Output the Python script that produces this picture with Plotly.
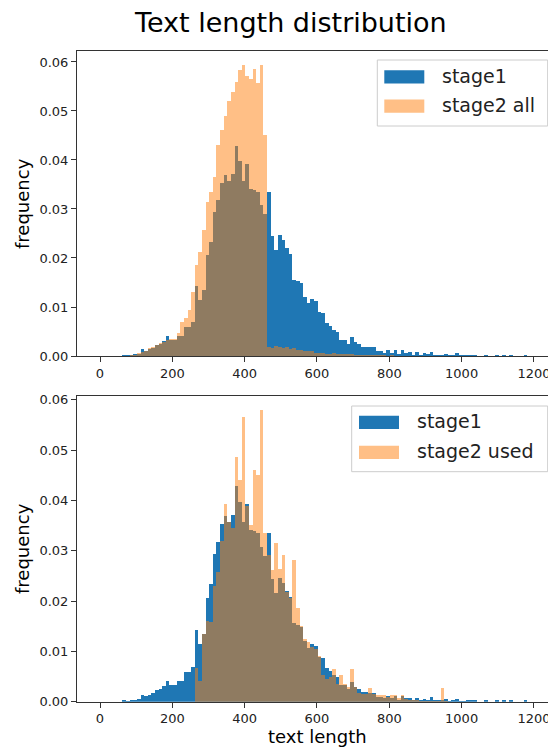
import plotly.graph_objects as go

# ---------------- data ----------------
bin_width = 10
stage1_start = 62
stage2_all_start = 62
stage2_used_start = 262

stage1 = [
    0.0003, 0.0001, 0.0003, 0.0004, 0.0005, 0.0014, 0.0011, 0.0014, 0.0017, 0.0024,
    0.0026, 0.0031, 0.0041, 0.0034, 0.0033, 0.0041, 0.0041, 0.0060, 0.0060, 0.0070,
    0.0144, 0.0115, 0.0136, 0.0206, 0.0234, 0.0295, 0.0318, 0.0354, 0.0369, 0.0358,
    0.0372, 0.0429, 0.0398, 0.0357, 0.0393, 0.0342, 0.0340, 0.0336, 0.0308, 0.0290,
    0.0335, 0.0245, 0.0217, 0.0247, 0.0237, 0.0220, 0.0209, 0.0156, 0.0153, 0.0150,
    0.0121, 0.0108, 0.0116, 0.0112, 0.0090, 0.0088, 0.0067, 0.0061, 0.0054, 0.0050,
    0.0034, 0.0033, 0.0026, 0.0039, 0.0029, 0.0025, 0.0020, 0.0019, 0.0018, 0.0018,
    0.0010, 0.0010, 0.0007, 0.0012, 0.0007, 0.0012, 0.0004, 0.0012, 0.0007, 0.0008,
    0.0003, 0.0008, 0.0003, 0.0006, 0.0004, 0.0009, 0.0003, 0.0002, 0.0002, 0.0005,
    0.0001, 0.0002, 0.0006, 0.0001, 0.0001, 0.0002, 0.0002, 0.0002, 0.0, 0.0,
    0.0002, 0.0, 0.0, 0.0002, 0.0, 0.0002, 0.0, 0.0002, 0.0, 0.0,
    0.0, 0.0002,
]

stage2_all = [
    0.0, 0.0001, 0.0002, 0.0003, 0.0006, 0.0009, 0.0011, 0.0016, 0.0018, 0.0024,
    0.0027, 0.0029, 0.0033, 0.0035, 0.0035, 0.0048, 0.0070, 0.0078, 0.0094, 0.0131,
    0.0186, 0.0213, 0.0257, 0.0315, 0.0335, 0.0365, 0.0431, 0.0461, 0.0490, 0.0520,
    0.0540, 0.0560, 0.0584, 0.0594, 0.0573, 0.0565, 0.0587, 0.0557, 0.0594, 0.0452,
    0.0019, 0.0017, 0.0021, 0.0018, 0.0017, 0.0019, 0.0015, 0.0017, 0.0013, 0.0012,
    0.0011, 0.0010, 0.0010, 0.0007, 0.0006, 0.0006, 0.0005, 0.0005, 0.0006, 0.0005,
    0.0004, 0.0005, 0.0004, 0.0005, 0.0003, 0.0003, 0.0003, 0.0003, 0.0002, 0.0003,
    0.0002, 0.0002, 0.0002, 0.0001, 0.0002, 0.0001, 0.0001, 0.0001, 0.0001, 0.0001,
    0.0001, 0.0, 0.0001, 0.0, 0.0001, 0.0, 0.0, 0.0001, 0.0, 0.0001,
]

stage2_used = [
    0.0068, 0.0041, 0.0136, 0.0160, 0.0159, 0.0230, 0.0258, 0.0320, 0.0394, 0.0358,
    0.0345, 0.0487, 0.0441, 0.0567, 0.0390, 0.0351, 0.0461, 0.0451, 0.0580, 0.0335,
    0.0292, 0.0262, 0.0315, 0.0265, 0.0292, 0.0219, 0.0206, 0.0282, 0.0186, 0.0152,
    0.0125, 0.0119, 0.0110, 0.0106, 0.0091, 0.0053, 0.0045, 0.0050, 0.0066, 0.0035,
    0.0053, 0.0035, 0.0030, 0.0066, 0.0030, 0.0018, 0.0015, 0.0015, 0.0027, 0.0015,
    0.0013, 0.0013, 0.0013, 0.0010, 0.0013, 0.0013, 0.0007, 0.0013, 0.0005, 0.0004,
    0.0003, 0.0003, 0.0002, 0.0002, 0.0002, 0.0002, 0.0002, 0.0002, 0.0027, 0.0002,
    0.0001, 0.0001, 0.0001, 0.0001, 0.0, 0.0001,
]

x_ticks = [0, 200, 400, 600, 800, 1000, 1200]
y_ticks = [0.00, 0.01, 0.02, 0.03, 0.04, 0.05, 0.06]

title_text = "Text length distribution"
legend_top = ["stage1", "stage2 all"]
legend_bottom = ["stage1", "stage2 used"]

# ---------------- styling ----------------
OFF = 8                      # page body margin of the html page
W, H = 556 - OFF, 747 - OFF  # figure size so the page fits the window
L = 77 - OFF                 # left margin in figure pixels
PW = W - L
FONT = "DejaVu Sans"
BLUE = "#1f77b4"
ORANGE = "rgba(255,127,14,0.5)"


def centers(start, n):
    return [start + bin_width * (i + 0.5) for i in range(n)]


def px(x):
    """page x pixel -> paper x"""
    return (x - OFF - L) / PW


def py(y):
    """page y pixel -> paper y"""
    return 1 - (y - OFF) / H


fig = go.Figure()

for vals, start, color, xa, ya in [
    (stage1, stage1_start, BLUE, "x", "y"),
    (stage2_all, stage2_all_start, ORANGE, "x", "y"),
    (stage1, stage1_start, BLUE, "x2", "y2"),
    (stage2_used, stage2_used_start, ORANGE, "x2", "y2"),
]:
    fig.add_trace(go.Bar(
        x=centers(start, len(vals)), y=vals, width=bin_width,
        marker=dict(color=color, line=dict(width=0)),
        xaxis=xa, yaxis=ya, showlegend=False, hoverinfo="x+y",
    ))

axis_common = dict(
    showline=True, linecolor="#333333", linewidth=1,
    ticks="outside", ticklen=5, tickwidth=1, tickcolor="#333333",
    showgrid=False, zeroline=False,
    tickfont=dict(family=FONT, size=13, color="#222222"),
)
xcommon = dict(axis_common, range=[-63.6, 1261], tickvals=x_ticks,
               ticktext=[str(t) for t in x_ticks], mirror=True)
ycommon = dict(axis_common, tickvals=y_ticks,
               ticktext=[f"{t:.2f}" for t in y_ticks])

fig.update_layout(
    width=W, height=H,
    margin=dict(l=L, r=0, t=0, b=0, autoexpand=False),
    paper_bgcolor="white", plot_bgcolor="white",
    barmode="overlay", bargap=0,
    xaxis=dict(xcommon, domain=[0, 1], anchor="y"),
    yaxis=dict(ycommon, domain=[py(356), py(50.7)], range=[0, 0.0623], anchor="x"),
    xaxis2=dict(xcommon, domain=[0, 1], anchor="y2"),
    yaxis2=dict(ycommon, domain=[py(701.7), py(395.7)], range=[0, 0.0608], anchor="x2"),
    font=dict(family=FONT, color="#000000"),
)

annotations = [
    dict(text=title_text, x=px(290), y=py(22), xref="paper", yref="paper",
         showarrow=False, font=dict(family=FONT, size=27, color="#000000"),
         xanchor="center", yanchor="middle"),
    dict(text="frequency", x=px(22), y=py(204), xref="paper", yref="paper",
         showarrow=False, textangle=-90, font=dict(family=FONT, size=18),
         xanchor="center", yanchor="middle"),
    dict(text="frequency", x=px(22), y=py(549), xref="paper", yref="paper",
         showarrow=False, textangle=-90, font=dict(family=FONT, size=18),
         xanchor="center", yanchor="middle"),
    dict(text="text length", x=px(317), y=py(736), xref="paper", yref="paper",
         showarrow=False, font=dict(family=FONT, size=18),
         xanchor="center", yanchor="middle"),
]
shapes = []


def add_legend(box, patches, labels, text_x):
    x0, x1, y0, y1 = box
    shapes.append(dict(type="rect", xref="paper", yref="paper",
                       x0=px(x0), x1=px(x1), y0=py(y1), y1=py(y0),
                       fillcolor="rgba(255,255,255,0.8)",
                       line=dict(color="#cccccc", width=1), layer="above"))
    for (pxa, pxb, pya, pyb), color, lab in zip(patches, [BLUE, ORANGE], labels):
        shapes.append(dict(type="rect", xref="paper", yref="paper",
                           x0=px(pxa), x1=px(pxb), y0=py(pyb), y1=py(pya),
                           fillcolor=color, line=dict(width=0), layer="above"))
        annotations.append(dict(text=lab, x=px(text_x), y=py((pya + pyb) / 2 - 1),
                                xref="paper", yref="paper", showarrow=False,
                                font=dict(family=FONT, size=19, color="#222222"),
                                xanchor="left", yanchor="middle"))


add_legend((377.3, 547.7, 60, 126),
           [(384.3, 424.3, 70.3, 83.6), (384.3, 424.3, 99.5, 112.8)],
           legend_top, 440)
add_legend((351.7, 547.7, 406, 471.7),
           [(359, 399, 415.7, 429.0), (359, 399, 445.7, 459.0)],
           legend_bottom, 415)

fig.update_layout(annotations=annotations, shapes=shapes)

fig.write_html("out.html")
